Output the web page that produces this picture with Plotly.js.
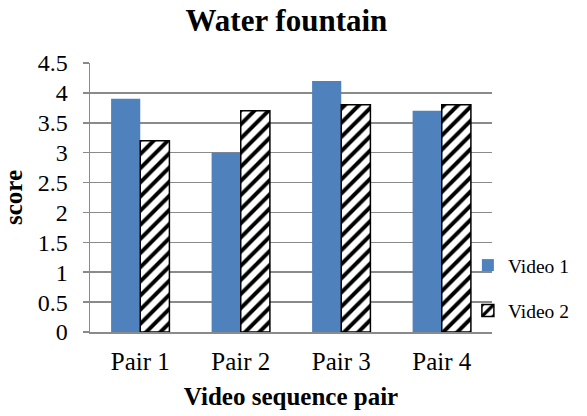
<!DOCTYPE html>
<html>
<head>
<meta charset="utf-8">
<script src="https://cdn.plot.ly/plotly-3.0.1.min.js"></script>
<style>html,body{margin:0;padding:0;background:#fff;}#chart{width:587px;height:416px;}</style>
</head>
<body>
<div id="chart"></div>
<script>
const categories = ["Pair 1", "Pair 2", "Pair 3", "Pair 4"];
const video1 = [3.9, 3.0, 4.2, 3.7];
const video2 = [3.2, 3.7, 3.8, 3.8];
const seriesNames = ["Video 1", "Video 2"];
const yTicks = [0, 0.5, 1, 1.5, 2, 2.5, 3, 3.5, 4, 4.5];
const yTickLabels = ["0", "0.5", "1", "1.5", "2", "2.5", "3", "3.5", "4", "4.5"];

const font = "Liberation Serif, Times New Roman, serif";
const gray = "#8a8a8a";

const traces = [
  {
    type: "bar", name: seriesNames[0], x: categories, y: video1,
    legendgroup: "a",
    marker: { color: "#4F81BD", line: { width: 0 } }
  },
  {
    type: "bar", name: seriesNames[1], x: categories, y: video2,
    legendgroup: "b",
    marker: {
      color: "white",
      line: { color: "black", width: 1.5 },
      pattern: { shape: "/", bgcolor: "white", fgcolor: "black", size: 10, solidity: 0.4 }
    }
  }
];

const layout = {
  width: 587, height: 416,
  margin: { l: 90, r: 95, t: 63, b: 84 },
  paper_bgcolor: "white", plot_bgcolor: "white",
  font: { family: font, color: "black", size: 24 },
  title: { text: "<b>Water fountain</b>", font: { family: font, size: 31, color: "black" },
           x: 0.488, xref: "container", y: 0.952, yref: "container", yanchor: "middle" },
  barmode: "group", bargap: 0.42, bargroupgap: 0,
  showlegend: true,
  legend: { x: 0.94, xanchor: "left", y: 0.32, yanchor: "top",
            font: { family: font, size: 19.5 },
            traceorder: "grouped", tracegroupgap: 17, bgcolor: "rgba(0,0,0,0)" },
  xaxis: {
    type: "category",
    showline: true, linecolor: gray, linewidth: 1.5,
    ticks: "", showgrid: false,
    tickfont: { family: font, size: 25 },
    ticklabelstandoff: 6,
    title: { text: "<b>Video sequence pair</b>", font: { family: font, size: 25 }, standoff: 14 }
  },
  yaxis: {
    range: [0, 4.5], tickvals: yTicks, ticktext: yTickLabels,
    showline: true, linecolor: gray, linewidth: 1.5,
    ticks: "outside", ticklen: 6, tickcolor: gray, tickwidth: 1.5,
    showgrid: true, gridcolor: gray, gridwidth: 1.5,
    zeroline: false,
    tickfont: { family: font, size: 24 },
    ticklabelstandoff: 10,
    title: { text: "<b>score</b>", font: { family: font, size: 25 }, standoff: 8 }
  }
};

Plotly.newPlot("chart", traces, layout, { displayModeBar: false, staticPlot: true });
</script>
</body>
</html>
